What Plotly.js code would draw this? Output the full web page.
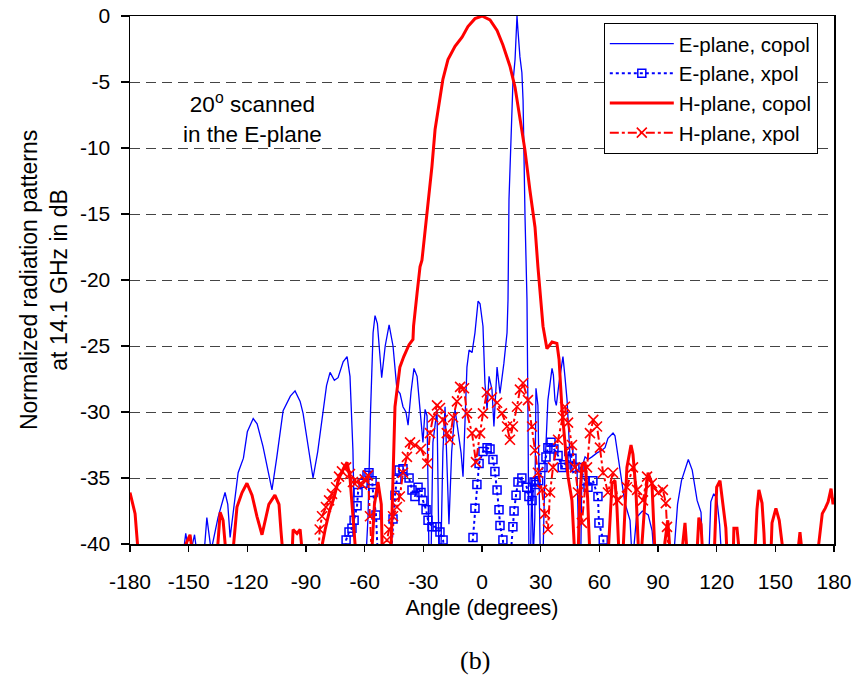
<!DOCTYPE html>
<html>
<head>
<meta charset="utf-8">
<script src="https://cdn.plot.ly/plotly-3.0.1.min.js"></script>
<style>html,body{margin:0;padding:0;background:#fff}#chart{width:856px;height:677px}</style>
</head>
<body>
<div id="chart"></div>
<script>
// ---- data (angle in degrees, level in dB); values below -40 leave the plot frame ----
var eCopol = [[-165,-45],[-153,-41],[-151.5,-39.2],[-149.5,-41],[-147,-39.3],[-145.5,-41],[-142,-40.5],[-140.7,-38],[-138.5,-40.5],[-135,-38],[-131.4,-36.1],[-130,-37],[-128.8,-39.5],[-127.5,-38],[-124.7,-34.6],[-122,-33.5],[-120,-31.5],[-117,-30.5],[-115,-30.9],[-112,-32.6],[-110,-34],[-107.4,-35.9],[-105,-33.5],[-101.7,-29.9],[-98,-28.8],[-95.6,-28.4],[-93,-29.2],[-91.5,-30.1],[-89,-32.5],[-86.4,-35],[-84,-33],[-81.8,-30.4],[-79.5,-28],[-77.7,-27],[-75.5,-27.6],[-73.6,-27.4],[-71,-26.2],[-69,-25.8],[-67.5,-27.3],[-66,-32.9],[-65,-40.5],[-60,-43],[-58.3,-38],[-57,-30],[-55.7,-24],[-54.7,-22.7],[-53.5,-23.3],[-51.3,-27.4],[-49.5,-25],[-47.5,-23.4],[-45.5,-25],[-43.5,-28.3],[-41.9,-28.6],[-40.4,-29.6],[-38.9,-30],[-37.8,-31],[-36.3,-28.5],[-34.8,-26.7],[-33.2,-27.3],[-31.7,-29.8],[-30.2,-32.3],[-29.1,-29.8],[-28.1,-30.3],[-27.1,-41],[-26,-40.5],[-25.1,-32.3],[-23,-29.8],[-22,-41],[-21,-40.5],[-20,-33],[-18.9,-29.6],[-16.9,-38.5],[-15.5,-33],[-13.8,-29.8],[-12.3,-31.6],[-10.7,-33.1],[-9.7,-34.9],[-7.7,-26.6],[-6.6,-25.3],[-5.1,-25.5],[-3.6,-24],[-2,-21.6],[-1,-21.8],[0.5,-23.5],[1.5,-27.8],[2.6,-29.8],[3.6,-27.3],[5.1,-28.3],[6.1,-31.1],[7.7,-26.6],[9.2,-28.6],[11.2,-26.3],[12.8,-24],[13.3,-21.5],[13.8,-13.9],[15.3,-8.1],[15.8,-5.1],[16.9,-3.3],[17.4,-0.8],[17.9,0],[18.4,-1.1],[19.4,-3.1],[20.4,-4.3],[21,-6.4],[22,-15.2],[23,-21.5],[23.5,-30],[24,-41],[24.8,-41],[25.5,-35],[26.2,-41],[27,-38],[27.6,-28.2],[28.6,-29.5],[29.8,-41],[31.2,-41],[32.2,-34.2],[33.7,-29.1],[35.8,-26.7],[36.5,-27.2],[37.3,-29.1],[38,-29.5],[39.4,-27.8],[41.4,-25.8],[42.4,-27.3],[43.5,-29.1],[45,-33.4],[46.5,-34.6],[48.6,-34.4],[49.6,-41],[50.5,-41],[51.1,-34.2],[52.7,-33.4],[54.2,-33.6],[56.2,-33.4],[58.8,-33.1],[61.3,-32.9],[62.9,-32.7],[64.4,-32],[67,-31.6],[68,-31.8],[69.5,-33.2],[71.6,-35.2],[73.1,-36.9],[75.7,-38.2],[76.7,-41],[77.5,-40.5],[79,-38],[82,-37.5],[85,-37.8],[87,-39],[88,-41],[98,-41],[100,-37],[102,-35.2],[104,-34.2],[105.5,-33.6],[107.5,-34.4],[110,-36.7],[112,-37.6],[113,-41],[116,-41],[117,-36.8],[118.5,-36.2],[120,-36.5],[121.5,-38.5],[122.5,-41],[180,-45]];

var eXpol = [[-71,-42],[-69.5,-39.7],[-68,-39.1],[-66.5,-38.8],[-65.4,-38.2],[-63.9,-37.1],[-63.4,-36.1],[-60.8,-35.4],[-58.8,-34.8],[-57.8,-34.6],[-56.2,-35.2],[-55.7,-36.1],[-54.2,-37.8],[-53,-42],[-47,-42],[-45.5,-38.1],[-44.5,-36.3],[-43.5,-35.1],[-42.4,-34.4],[-40.4,-34.3],[-37.3,-35],[-35.8,-35.9],[-34.3,-36.4],[-32.7,-35.7],[-31.2,-36.1],[-30.2,-36.7],[-28.6,-37.4],[-27.6,-38.2],[-25.6,-38.7],[-23,-38.7],[-21.5,-39.1],[-19.9,-39.7],[-18.5,-42],[-6,-42],[-4.6,-39.5],[-3.6,-37.3],[-2.6,-35.5],[-1.5,-33.9],[0.5,-33],[2.6,-32.7],[4.1,-32.8],[5.6,-33.6],[6.6,-34.5],[7.7,-35.9],[8.7,-37.4],[9.2,-38.6],[10.7,-39.7],[12,-42],[14,-42],[15.8,-38.7],[16.4,-37.5],[17.4,-36.3],[18.4,-35.3],[20.4,-35],[22.9,-35.7],[24,-36.4],[25.6,-36.7],[26.6,-35.3],[27.6,-35.5],[29,-35.2],[31.2,-34.2],[32.7,-33.4],[33.7,-32.7],[35.3,-32.3],[36.8,-32.8],[38.9,-33.3],[41,-34.2],[42.4,-34],[44.4,-33],[46,-33.5],[47.5,-34.2],[50.1,-34.2],[52.7,-35.2],[54.2,-35.7],[56.7,-35.2],[59.3,-36.4],[59.8,-38.4],[62,-39.7],[63,-42]];

var hCopol = [[-180,-36.1],[-177.4,-37.7],[-175.9,-40.5],[-174,-44],[-155,-44],[-152.9,-40.5],[-149.3,-39.3],[-147.8,-41],[-145,-44],[-137,-44],[-135.5,-40.5],[-133.9,-37.6],[-132.4,-38.2],[-130.8,-40.5],[-129,-44],[-127.3,-40.5],[-125.3,-37.2],[-122.7,-36.1],[-120.2,-35.4],[-117.6,-36.3],[-115.1,-37.9],[-112.5,-39.3],[-111,-38.2],[-109,-37],[-105.9,-36.3],[-103.8,-37],[-102.8,-39],[-101.8,-41],[-100,-44],[-98,-44],[-97.1,-40.5],[-96.6,-38.9],[-94.6,-39.2],[-93,-38.9],[-92,-40.5],[-90,-44],[-84,-44],[-82.3,-40.5],[-80.2,-38.9],[-78,-37.5],[-75.7,-36.5],[-73.1,-35],[-70.6,-34.2],[-69,-33.8],[-67.5,-35],[-66,-38],[-64.4,-41],[-62,-44],[-57.5,-44],[-56.5,-41],[-55,-37],[-53.2,-35.3],[-51.5,-37],[-51,-41],[-49.5,-44],[-47,-43],[-46.5,-40],[-45.5,-33.6],[-44.5,-29.6],[-43,-27.8],[-42,-26.6],[-40,-25.8],[-37.3,-24.9],[-35.3,-24.5],[-35,-23.5],[-33.2,-21],[-31.7,-19],[-30.7,-18.5],[-28.1,-14.9],[-25.6,-11.4],[-24,-8.6],[-21.5,-6.1],[-20,-4.8],[-17.4,-3.3],[-13.8,-2.3],[-10.2,-1.6],[-7.2,-0.8],[-3.6,-0.2],[0,0],[4.1,-0.3],[7.7,-1.1],[10.7,-2.2],[14.3,-3.8],[16.9,-5.4],[19.4,-7.6],[22,-10.2],[24.5,-13.2],[27.1,-16],[28.6,-19],[29.7,-20.8],[31.2,-23.5],[33.2,-25.2],[35.8,-24.7],[38.3,-24.8],[39.4,-26],[40.9,-29.8],[42.4,-32.3],[44,-34.9],[46,-36.7],[47.5,-40.5],[48.5,-44],[49.2,-40.5],[50,-36.5],[51.1,-34],[52.7,-33.8],[54,-36.5],[55.2,-40.5],[56,-44],[62,-44],[64.6,-40.5],[66.5,-35.4],[68,-35.2],[69,-37.2],[70,-40.5],[71,-44],[72,-41],[74.1,-34.2],[76.2,-32.5],[77.2,-33.2],[78.7,-35.9],[79.8,-40.5],[81,-44],[81.8,-40],[83.3,-36.8],[84.9,-34.6],[86.9,-35.4],[88.4,-40.5],[89.5,-44],[93,-44],[93.5,-39.9],[95,-38.2],[96.1,-40.5],[97,-44],[102,-44],[102.3,-40.5],[103.8,-38.4],[104.8,-40.5],[106,-44],[110,-40.5],[110.9,-38],[112,-38.5],[113,-40.5],[114,-44],[118,-44],[119,-40.5],[120,-35.7],[121.7,-35.2],[123.2,-36.8],[124.7,-38.8],[125.2,-40.5],[126,-44],[128,-44],[128.3,-40.5],[128.8,-38.8],[130.4,-38.8],[131.5,-40.5],[132,-44],[139,-44],[139.6,-40.5],[140.6,-37.4],[141.6,-35.9],[143.2,-36.9],[144.2,-39.2],[144.7,-40.5],[145.5,-44],[147,-44],[148,-40.5],[148.3,-38.4],[150.3,-37.3],[152,-38.2],[153.9,-40.5],[155,-44],[161,-44],[161.6,-40.5],[162.6,-39.1],[163.6,-40.5],[164.5,-44],[171,-44],[171.8,-40.5],[174,-37.7],[175.5,-37.3],[177,-36.8],[178.5,-35.8],[179.5,-37],[180,-36.5]];

var hXpol = [[-84,-42],[-83,-38.9],[-81.8,-37.9],[-79.8,-37.2],[-78.2,-36.7],[-76.7,-36.2],[-74.6,-35.7],[-73.1,-34.9],[-71.6,-34.5],[-69.5,-34.2],[-67.5,-34.7],[-66,-35.3],[-64,-35.3],[-61.3,-35.5],[-60,-35.1],[-58.3,-34.8],[-57.3,-37.9],[-56.5,-40.5],[-55,-43],[-49.6,-42],[-48.6,-39.7],[-47.5,-38.9],[-45.5,-37.9],[-43.5,-37.2],[-42,-36.4],[-40.4,-34.6],[-38.4,-33.4],[-36.8,-32.3],[-34.3,-32.5],[-31.2,-32.8],[-28,-33.9],[-26.6,-31.6],[-25,-30.4],[-23,-29.5],[-21.5,-29.7],[-20,-30.6],[-18,-31.6],[-16.4,-32.1],[-14.8,-30.4],[-12.8,-29.2],[-11.2,-28.1],[-9.2,-28.2],[-7.7,-30.1],[-5.1,-31.6],[-3.1,-33.8],[-1,-31.6],[0.5,-30.1],[2.5,-28.5],[5.1,-28.9],[7.7,-29.3],[10.2,-30.1],[12.8,-31.1],[14.3,-32.1],[15.8,-31.1],[17.9,-29.6],[19.4,-28.3],[21,-27.8],[23.5,-29.1],[25.6,-31.1],[27.1,-32.9],[28.6,-34.6],[30.7,-35.9],[32.2,-37.7],[33.7,-38.9],[34.8,-36.1],[36.3,-34.2],[38.9,-32.1],[41.4,-30.4],[42.4,-29.6],[44,-30.8],[46,-32.5],[47.5,-34.2],[49.1,-36.1],[51.1,-38.4],[53.7,-34.2],[55.2,-31.6],[56.9,-30.6],[58.8,-31.1],[60.3,-32.7],[61.9,-34.6],[64.4,-36.1],[67,-34.6],[69.5,-36.7],[74.1,-35.7],[77.2,-34.2],[79.3,-35.9],[82.3,-36.7],[84.4,-34.9],[86.9,-35.4],[90,-36.1],[92.5,-35.9],[94,-36.9],[94.6,-38.7],[95.1,-40.5],[96,-43]];

var seriesNames = ['E-plane, copol', 'E-plane, xpol', 'H-plane, copol', 'H-plane, xpol'];
var xTickVals = [-180,-150,-120,-90,-60,-30,0,30,60,90,120,150,180];
var xTickText = ['-180','-150','-120','-90','-60','-30','0','30','60','90','120','150','180'];
var yTickVals = [0,-5,-10,-15,-20,-25,-30,-35,-40];
var yTickText = ['0','-5','-10','-15','-20','-25','-30','-35','-40'];

function xs(a){return a.map(function(p){return p[0];});}
function ys(a){return a.map(function(p){return p[1];});}

var FONT = 'Liberation Sans, Arial, sans-serif';

var traces = [
  {x: xs(eCopol), y: ys(eCopol), name: seriesNames[0], mode: 'lines',
   line: {color: '#0000FF', width: 1.3}},
  {x: xs(eXpol), y: ys(eXpol), name: seriesNames[1], mode: 'lines+markers',
   line: {color: '#0000FF', width: 2, dash: 'dot'},
   marker: {symbol: 'square-open', size: 8, color: '#0000FF', line: {width: 1.5, color: '#0000FF'}}},
  {x: xs(hCopol), y: ys(hCopol), name: seriesNames[2], mode: 'lines',
   line: {color: '#FF0000', width: 3}},
  {x: xs(hXpol), y: ys(hXpol), name: seriesNames[3], mode: 'lines+markers',
   line: {color: '#FF0000', width: 2, dash: 'dashdot'},
   marker: {symbol: 'x-thin-open', size: 10, color: '#FF0000', line: {width: 1.6, color: '#FF0000'}}}
];

var layout = {
  width: 856, height: 677,
  margin: {l: 130, r: 22, t: 16, b: 133},
  paper_bgcolor: '#fff', plot_bgcolor: '#fff',
  font: {family: FONT, size: 21, color: '#000'},
  showlegend: true,
  legend: {x: 0.977, y: 0.987, xanchor: 'right', yanchor: 'top',
           bgcolor: '#fff', bordercolor: '#000', borderwidth: 1,
           font: {family: FONT, size: 20.5, color: '#000'}, itemwidth: 64},
  xaxis: {range: [-180, 180], tickvals: xTickVals, ticktext: xTickText,
          showgrid: false, zeroline: false, showline: true, mirror: true,
          linecolor: '#000', linewidth: 1.5, ticks: 'outside', ticklen: 6, tickwidth: 1.5, tickcolor: '#000',
          ticklabelstandoff: 12,
          tickfont: {family: FONT, size: 21},
          title: {text: 'Angle (degrees)', font: {family: FONT, size: 21.5}, standoff: 8}},
  yaxis: {range: [-40, 0], tickvals: yTickVals, ticktext: yTickText,
          showgrid: true, gridcolor: '#444', gridwidth: 1, griddash: '10px,6px',
          zeroline: false, showline: true, mirror: true,
          linecolor: '#000', linewidth: 1.5, ticks: 'outside', ticklen: 8, tickwidth: 1.5, tickcolor: '#000',
          ticklabelstandoff: 6,
          tickfont: {family: FONT, size: 21}},
  annotations: [
    {xref: 'paper', yref: 'paper', x: 0.1747, y: 0.806, xanchor: 'center', yanchor: 'middle',
     text: '20<sup>o</sup> scanned<br>in the E-plane', showarrow: false,
     font: {family: FONT, size: 22.5, color: '#000'}},
    {xref: 'paper', yref: 'paper', x: -0.122, y: 0.5, xanchor: 'center', yanchor: 'middle',
     text: 'Normalized radiation patterns<br>at 14.1 GHz in dB', textangle: -90, showarrow: false,
     font: {family: FONT, size: 23, color: '#000'}},
    {xref: 'paper', yref: 'paper', x: 0.49, y: -0.22, xanchor: 'center', yanchor: 'middle',
     text: '(b)', showarrow: false,
     font: {family: 'Liberation Serif, Times New Roman, serif', size: 26, color: '#000'}}
  ]
};

Plotly.newPlot('chart', traces, layout, {displayModeBar: false, staticPlot: true});
</script>
</body>
</html>
